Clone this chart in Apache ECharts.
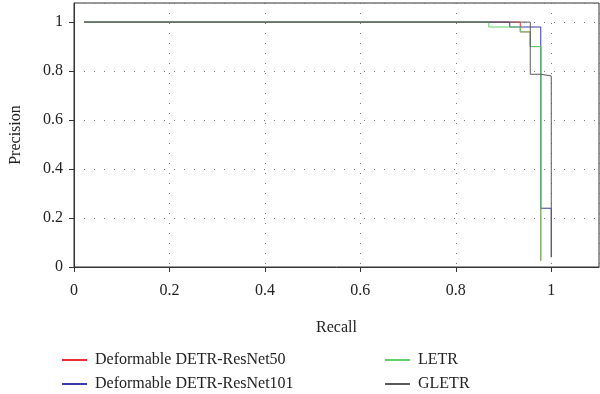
<!DOCTYPE html>
<html>
<head>
<meta charset="utf-8">
<script src="https://cdn.jsdelivr.net/npm/echarts@6/dist/echarts.min.js"></script>
<style>html,body{margin:0;padding:0;background:#fff;}#c{width:600px;height:394px;}</style>
</head>
<body>
<div id="c"></div>
<script>
var seriesNames = ['Deformable DETR-ResNet50', 'Deformable DETR-ResNet101', 'LETR', 'GLETR'];
var xTicks = [0, 0.2, 0.4, 0.6, 0.8, 1];
var yTicks = [0, 0.2, 0.4, 0.6, 0.8, 1];

var r50Recall    = [0.021, 0.935, 0.935, 0.935, 0.956, 0.956, 0.978, 0.978];
var r50Precision = [1.0,   1.0,   0.98,  0.96,  0.96,  0.90,  0.90,  0.025];

var r101Recall    = [0.021, 0.913, 0.913, 0.978, 0.978, 1.0, 1.0];
var r101Precision = [1.0,   1.0,   0.98,  0.98,  0.24,  0.24, 0.04];

var letrRecall    = [0.021, 0.869, 0.869, 0.935, 0.935, 0.956, 0.956, 0.978, 0.978];
var letrPrecision = [1.0,   1.0,   0.98,  0.98,  0.96,  0.96,  0.90,  0.90,  0.025];

var gletrRecall    = [0.021, 0.956, 0.956, 0.978, 0.978, 1.0, 1.0];
var gletrPrecision = [1.0,   1.0,   0.787, 0.787, 0.78,  0.78, 0.04];

var colors = ['#ee2a3a', '#3a3aa8', '#5fd46a', '#5a5a5a'];

function pairs(xs, ys) { return xs.map(function (x, i) { return [x, ys[i]]; }); }
var allData = [
  pairs(r50Recall, r50Precision),
  pairs(r101Recall, r101Precision),
  pairs(letrRecall, letrPrecision),
  pairs(gletrRecall, gletrPrecision)
];

var font = 'Liberation Serif';
var chart = echarts.init(document.getElementById('c'));
var axisCommon = {
  min: 0, interval: 0.2,
  nameTextStyle: { fontFamily: font, fontSize: 16, color: '#222' },
  axisLine: { show: true, lineStyle: { color: '#333', width: 1 } },
  axisTick: { show: true, inside: false, length: 5, lineStyle: { color: '#333' } },
  axisLabel: { fontFamily: font, fontSize: 16, color: '#222', showMaxLabel: false,
    formatter: function (v) { return String(Math.round(v * 10) / 10); } },
  splitLine: { show: true, lineStyle: { color: '#777', type: [1, 9], width: 1 } }
};
var legendPos = [[62, 352], [62, 376], [385, 352], [385, 376]];
chart.setOption({
  animation: false,
  grid: { left: 71, right: 1, top: 3, bottom: 127, show: true, borderColor: '#333', borderWidth: 1, backgroundColor: 'transparent' },
  xAxis: Object.assign({}, axisCommon, { type: 'value', max: 1.1, name: 'Recall', nameLocation: 'middle', nameGap: 53,
    axisLabel: Object.assign({}, axisCommon.axisLabel, { margin: 16 }) }),
  yAxis: Object.assign({}, axisCommon, { type: 'value', max: 1.078, name: 'Precision', nameLocation: 'middle', nameGap: 50,
    axisLabel: Object.assign({}, axisCommon.axisLabel, { margin: 11 }) }),
  legend: seriesNames.map(function (n, i) {
    return { data: [n], left: legendPos[i][0], top: legendPos[i][1], padding: 0,
      itemWidth: 25, itemHeight: 2, icon: 'rect', itemGap: 10,
      textStyle: { fontFamily: font, fontSize: 16, color: '#222', padding: [0, 0, 0, 3] } };
  }),
  series: seriesNames.map(function (n, i) {
    return { name: n, type: 'line', data: allData[i], showSymbol: false, symbol: 'none',
      lineStyle: { color: colors[i], width: 1 }, itemStyle: { color: colors[i] }, z: 2 + i };
  })
});
</script>
</body>
</html>
